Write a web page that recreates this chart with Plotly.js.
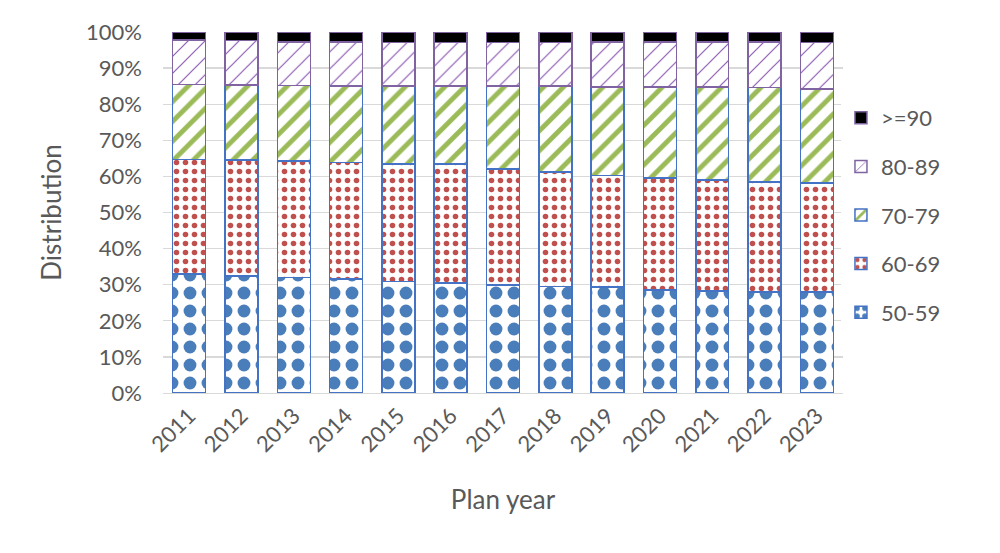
<!DOCTYPE html>
<html>
<head>
<meta charset="utf-8">
<script src="https://cdn.plot.ly/plotly-3.0.1.min.js"></script>
<style>html,body{margin:0;padding:0;background:#fff;}#chart{width:1000px;height:553px;}</style>
</head>
<body>
<div id="chart"></div>
<script>
const years = ['2011','2012','2013','2014','2015','2016','2017','2018','2019','2020','2021','2022','2023'];
const age50_59 = [33.0, 32.4, 32.0, 31.6, 30.9, 30.5, 29.9, 29.5, 29.3, 28.5, 28.2, 28.0, 28.0];
const age60_69 = [31.7, 32.1, 32.3, 32.3, 32.6, 32.9, 32.1, 31.7, 31.0, 31.1, 30.8, 30.4, 30.2];
const age70_79 = [20.8, 20.8, 20.9, 21.2, 21.5, 21.6, 23.0, 23.8, 24.5, 25.2, 25.8, 26.2, 26.0];
const age80_89 = [12.3, 12.3, 12.1, 12.2, 12.1, 12.1, 12.1, 12.1, 12.4, 12.4, 12.4, 12.6, 12.9];
const age90 = [2.2, 2.4, 2.7, 2.7, 2.9, 2.9, 2.9, 2.9, 2.8, 2.8, 2.8, 2.8, 2.9];

const blue = '#4472C4', purple = '#8064A2';
function tr(name, y, pattern, line, color, rank) {
  const m = {color:color||'#ffffff', line:{color:line, width:1.5}};
  if (pattern) m.pattern = pattern;
  return {type:'bar', name:name, x:years, y:y, legendgroup:name, legendrank:rank,
    marker:m, hoverinfo:'skip'};
}
const data = [
  tr('50-59', age50_59, {shape:'.', fgcolor:'#4a7ebb', bgcolor:'#ffffff', size:18, solidity:0.4, fillmode:'replace'}, blue, null, 5),
  tr('60-69', age60_69, {shape:'.', fgcolor:'#c0504d', bgcolor:'#ffffff', size:9, solidity:0.3, fillmode:'replace'}, blue, null, 4),
  tr('70-79', age70_79, {shape:'/', fgcolor:'#9bbb59', bgcolor:'#ffffff', size:14, solidity:0.35, fillmode:'replace'}, blue, null, 3),
  tr('80-89', age80_89, {shape:'/', fgcolor:'#7030a0', bgcolor:'#ffffff', size:12, solidity:0.1, fgopacity:0.8, fillmode:'replace'}, purple, null, 2),
  tr('>=90', age90, null, purple, '#000000', 1)
];

const layout = {
  width:1000, height:553,
  barmode:'stack', bargap:0.37,
  margin:{l:163, r:157, t:32, b:160},
  paper_bgcolor:'#ffffff', plot_bgcolor:'#ffffff',
  font:{family:'Lato, "Open Sans", sans-serif', size:22, color:'#595959'},
  xaxis:{
    type:'category',
    tickangle:-45, tickfont:{size:22, color:'#595959'},
    showline:true, linecolor:'#d9d9d9', linewidth:1.3,
    showgrid:false, ticks:'',
    title:{text:'Plan year', font:{size:26, color:'#595959'}, standoff:34}
  },
  yaxis:{
    range:[0,100], dtick:10, ticksuffix:'%',
    showgrid:true, gridcolor:'#d9d9d9', gridwidth:1.3,
    zeroline:false, showline:false, ticks:'',
    ticklabelstandoff:20,
    tickfont:{size:22, color:'#595959'},
    title:{text:'Distribution', font:{size:26, color:'#595959'}, standoff:16}
  },
  legend:{
    x:0.997, xanchor:'left', y:0.82, yanchor:'top',
    traceorder:'grouped', tracegroupgap:17,
    font:{size:22, color:'#595959'}, itemwidth:30
  },
  showlegend:true
};
Plotly.newPlot('chart', data, layout, {displayModeBar:false, staticPlot:true});
</script>
</body>
</html>
